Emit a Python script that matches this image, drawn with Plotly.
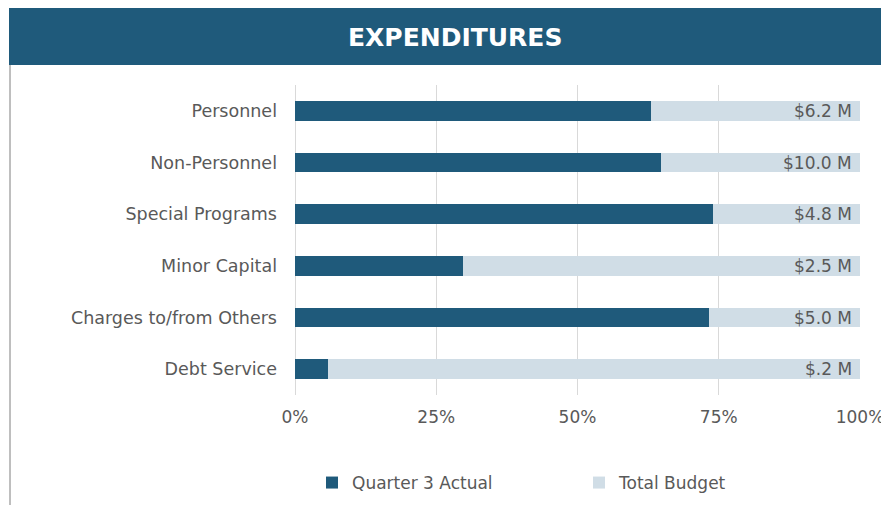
import plotly.graph_objects as go

categories = ["Personnel", "Non-Personnel", "Special Programs", "Minor Capital",
              "Charges to/from Others", "Debt Service"]
actual_pct = [0.630, 0.648, 0.740, 0.297, 0.733, 0.058]
budget_labels = ["$6.2 M", "$10.0 M", "$4.8 M", "$2.5 M", "$5.0 M", "$.2 M"]
remaining_pct = [1 - a for a in actual_pct]

DARK = "#1f5a7b"
LIGHT = "#d0dde6"
GRAY = "#595959"
FONT = "DejaVu Sans"

fig = go.Figure()
fig.add_trace(go.Bar(
    y=categories, x=actual_pct, orientation="h", name="Quarter 3 Actual",
    marker=dict(color=DARK, line=dict(width=0)), hoverinfo="skip"))
fig.add_trace(go.Bar(
    y=categories, x=remaining_pct, orientation="h", name="Total Budget",
    marker=dict(color=LIGHT, line=dict(width=0)), hoverinfo="skip"))

for cat, lab in zip(categories, budget_labels):
    fig.add_annotation(x=1, y=cat, xref="x", yref="y", text=lab,
                       showarrow=False, xanchor="right", yanchor="middle",
                       xshift=-6, font=dict(color=GRAY, size=17, family=FONT))

OFF = 8  # page body margin offset
W, H = 889, 505
L, R = 295 - OFF, W - (860 - OFF)
T, B = 85 - OFF, H - (395 - OFF)
pw, ph = W - L - R, H - T - B

def px_x(p):
    return (p - OFF - L) / pw

def px_y(p):
    return (H - B - (p - OFF)) / ph

fig.add_shape(type="rect", xref="paper", yref="paper",
              x0=px_x(9), x1=px_x(900), y0=px_y(65), y1=px_y(6),
              fillcolor=DARK, line=dict(width=0), layer="below")
fig.add_shape(type="line", xref="paper", yref="paper",
              x0=px_x(10), x1=px_x(10), y0=px_y(65), y1=px_y(520),
              line=dict(color="#7f7f7f", width=1))
fig.add_annotation(text="<b>EXPENDITURES</b>", xref="paper", yref="paper",
                   x=px_x(455), y=px_y(37), showarrow=False,
                   font=dict(color="white", size=25, family=FONT),
                   xanchor="center", yanchor="middle")

fig.update_layout(
    width=W, height=H,
    margin=dict(l=L, r=R, t=T, b=B),
    paper_bgcolor="white", plot_bgcolor="white",
    barmode="stack", bargap=0.615,
    showlegend=True,
    legend=dict(orientation="h", x=px_x(312), y=px_y(483), xanchor="left",
                yanchor="middle", entrywidth=222, entrywidthmode="pixels",
                font=dict(color=GRAY, size=17, family=FONT), traceorder="normal"),
    font=dict(family=FONT, color=GRAY),
)
fig.update_xaxes(range=[0, 1], tickvals=[0, 0.25, 0.5, 0.75, 1],
                 ticktext=["0%", "25%", "50%", "75%", "100%"],
                 showgrid=True, gridcolor="#d9d9d9", gridwidth=1,
                 zeroline=True, zerolinecolor="#d9d9d9", zerolinewidth=1,
                 tickfont=dict(size=17, color=GRAY, family=FONT),
                 ticklabelstandoff=10, fixedrange=True)
fig.update_yaxes(autorange="reversed", showgrid=False,
                 tickfont=dict(size=17.5, color=GRAY, family=FONT),
                 ticklabelstandoff=17, fixedrange=True)

fig.write_html("out.html")
